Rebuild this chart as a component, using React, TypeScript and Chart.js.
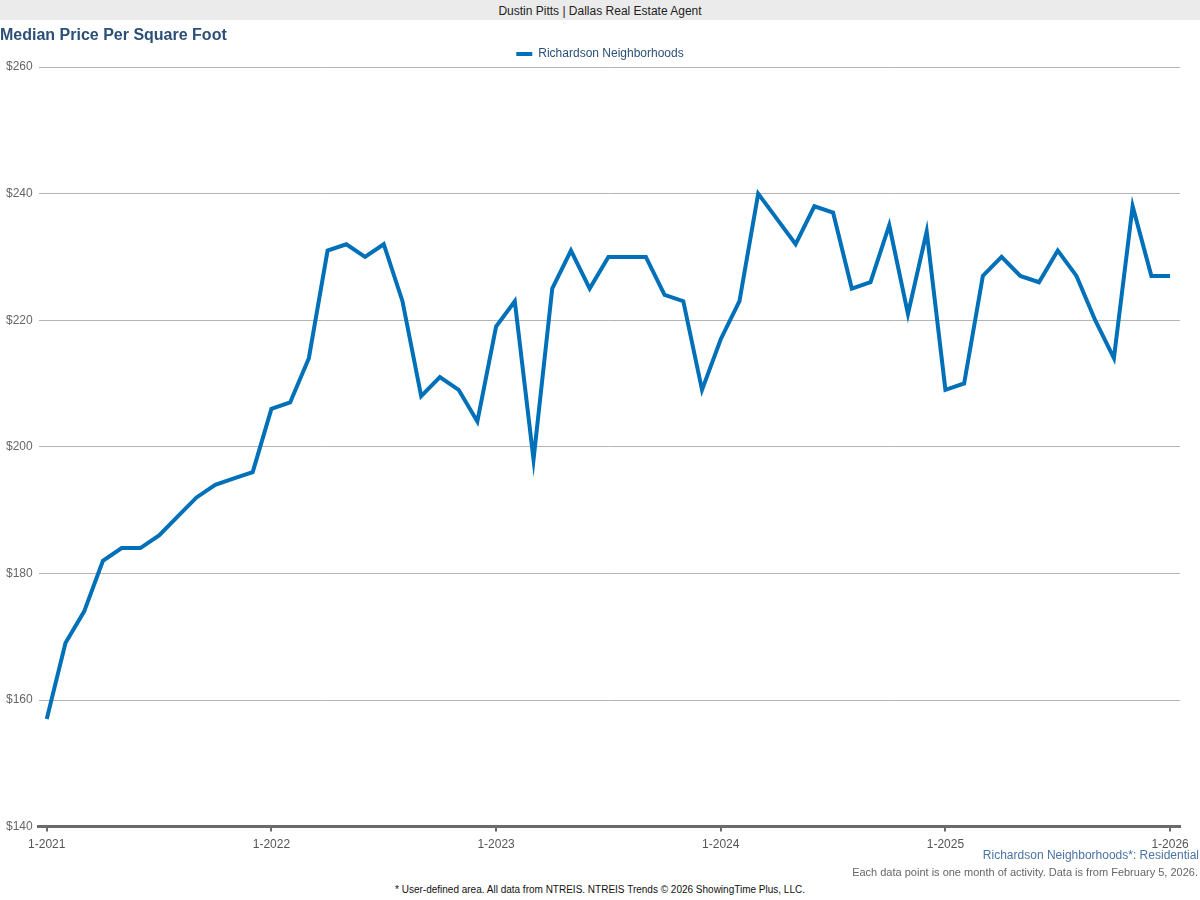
import { useEffect, useRef } from "react";
import { Chart, registerables, Plugin } from "chart.js";

Chart.register(...registerables);

const seriesName = "Richardson Neighborhoods";

// one value per month, 1-2021 through 1-2026
const medianPrice = [
  157, 169, 174, 182, 184, 184, 186, 189, 192, 194, 195, 196,
  206, 207, 214, 231, 232, 230, 232, 223, 208, 211, 209, 204,
  219, 223, 198, 225, 231, 225, 230, 230, 230, 224, 223, 209,
  217, 223, 240, 236, 232, 238, 237, 225, 226, 235, 221, 234,
  209, 210, 227, 230, 227, 226, 231, 227, 220, 214, 238, 227,
  227,
];

const tickIndex = [0, 12, 24, 36, 48, 60];
const tickLabels = ["1-2021", "1-2022", "1-2023", "1-2024", "1-2025", "1-2026"];

const FONT = '"Liberation Sans", Arial, Helvetica, sans-serif';
const LINE_COLOR = "#0070b8";
const NAVY = "#2b4f77";

// legend is centred on the whole page, not on the padded box
const centerLegend: Plugin<"line"> = {
  id: "centerLegend",
  afterLayout(chart) {
    if (chart.legend) chart.legend.left = 20;
  },
};

const PriceChart = () => {
  const canvasRef = useRef<HTMLCanvasElement | null>(null);
  const chartInstance = useRef<Chart | null>(null);

  useEffect(() => {
    if (!canvasRef.current) return;
    const ctx = canvasRef.current.getContext("2d");
    if (!ctx) return;

    chartInstance.current = new Chart(ctx, {
      type: "line",
      data: {
        datasets: [
          {
            label: seriesName,
            data: medianPrice.map((v, i) => ({ x: i, y: v })),
            borderColor: LINE_COLOR,
            backgroundColor: LINE_COLOR,
            borderWidth: 4,
            pointRadius: 0,
            tension: 0,
            fill: false,
          },
        ],
      },
      plugins: [centerLegend],
      options: {
        animation: false,
        responsive: true,
        maintainAspectRatio: false,
        layout: { padding: { left: 0, right: 20, top: 0, bottom: 0 } },
        plugins: {
          tooltip: { enabled: false },
          legend: {
            position: "top",
            maxHeight: 24,
            labels: {
              font: { family: FONT, size: 12 },
              color: NAVY,
              boxWidth: 16,
              boxHeight: 4,
              padding: 5,
              generateLabels: () => [
                {
                  text: seriesName,
                  fillStyle: LINE_COLOR,
                  strokeStyle: LINE_COLOR,
                  lineWidth: 0,
                  hidden: false,
                  datasetIndex: 0,
                  fontColor: NAVY,
                },
              ],
            },
          },
        },
        scales: {
          x: {
            type: "linear",
            min: -0.43,
            max: 60.53,
            afterBuildTicks: (scale) => {
              scale.ticks = tickIndex.map((v) => ({ value: v }));
            },
            ticks: {
              autoSkip: false,
              maxRotation: 0,
              padding: 6,
              color: "#555",
              font: { family: FONT, size: 12 },
              callback: (v) => tickLabels[tickIndex.indexOf(Number(v))] ?? "",
            },
            grid: {
              drawOnChartArea: false,
              drawTicks: true,
              tickLength: 5,
              color: "#6a6a6a",
              lineWidth: 2,
            },
            border: { display: true, color: "#6a6a6a", width: 3 },
          },
          y: {
            min: 140,
            max: 260,
            ticks: {
              stepSize: 20,
              padding: 6,
              color: "#666",
              font: { family: FONT, size: 12 },
              callback: (v) => "$" + v,
            },
            grid: { color: "#b4b4b4", lineWidth: 1, drawTicks: false },
            border: { display: false },
          },
        },
      },
    });

    return () => {
      if (chartInstance.current) {
        chartInstance.current.destroy();
        chartInstance.current = null;
      }
    };
  }, []);

  return <canvas ref={canvasRef} />;
};

export default function App() {
  return (
    <div
      style={{
        position: "absolute",
        left: 0,
        top: 0,
        width: 1200,
        height: 900,
        background: "#fff",
        fontFamily: FONT,
        overflow: "hidden",
      }}
    >
      <div
        style={{
          position: "absolute",
          left: 0,
          top: 0,
          width: 1200,
          height: 20,
          background: "#ebebeb",
          color: "#222",
          fontSize: 12,
          lineHeight: "22px",
          textAlign: "center",
        }}
      >
        Dustin Pitts | Dallas Real Estate Agent
      </div>
      <div
        style={{
          position: "absolute",
          left: 0,
          top: 25,
          fontSize: 16,
          fontWeight: "bold",
          color: NAVY,
          lineHeight: "20px",
          zIndex: 2,
        }}
      >
        Median Price Per Square Foot
      </div>
      <div style={{ position: "absolute", left: 0, top: 43, width: 1200, height: 815 }}>
        <PriceChart />
      </div>
      <div
        style={{
          position: "absolute",
          right: 1,
          top: 847,
          fontSize: 12,
          lineHeight: "16px",
          color: "#4a73a6",
          whiteSpace: "nowrap",
        }}
      >
        Richardson Neighborhoods*: Residential
      </div>
      <div
        style={{
          position: "absolute",
          right: 2,
          top: 865,
          fontSize: 11,
          lineHeight: "14px",
          color: "#666",
          whiteSpace: "nowrap",
        }}
      >
        Each data point is one month of activity. Data is from February 5, 2026.
      </div>
      <div
        style={{
          position: "absolute",
          left: 0,
          width: 1200,
          top: 883,
          fontSize: 10,
          lineHeight: "13px",
          color: "#111",
          textAlign: "center",
        }}
      >
        * User-defined area. All data from NTREIS. NTREIS Trends © 2026 ShowingTime Plus, LLC.
      </div>
    </div>
  );
}
